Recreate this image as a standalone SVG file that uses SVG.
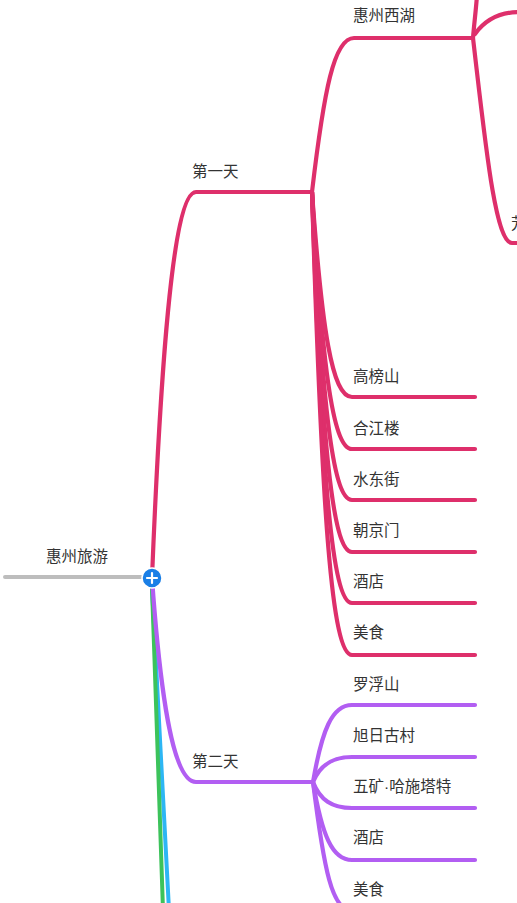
<svg xmlns="http://www.w3.org/2000/svg" width="517" height="903" viewBox="0 0 517 903">
<style>
.t{font-family:"Noto Sans CJK SC","Liberation Sans",sans-serif;font-size:15.5px;fill:#333333}
.d{font-family:"Liberation Sans",sans-serif}
.l{fill:none;stroke-linecap:round;stroke-linejoin:round}
.pk{stroke:#DE2F6B;stroke-width:4.2}
.pu{stroke:#B25EF2;stroke-width:4.2}
</style>
<rect width="517" height="903" fill="#ffffff"/>
<g id="connectors">
<path class="l" d="M5,577 L150,577" stroke="#BDBDBD" stroke-width="4"/>
<path class="l" d="M152,588 C159,720 165,830 169,910" stroke="#2DB6F4" stroke-width="4"/>
<path class="l" d="M152,588 C156,700 160,820 163,910" stroke="#3CC35B" stroke-width="4"/>
<path class="l pk" d="M152,578 C160,380 172,192 196,192 L312,192"/>
<path class="l pu" d="M152,578 C160,690 172,782 196,782 L313,782"/>
<path class="l pk" d="M312,192 C324,90 334,38 354,38 L473,38"/>
<path class="l pk" d="M473,38 C474,25 476,10 477,-5"/>
<path class="l pk" d="M475,34 C485,20 500,12 520,12"/>
<path class="l pk" d="M473,38 C485,140 495,243 512,243 L520,243"/>
<path class="l pk" d="M312,192 C322,330 332,397 352,397 L475,397"/>
<path class="l pk" d="M312,192 C322,360 332,449 352,449 L475,449"/>
<path class="l pk" d="M312,192 C322,400 332,500 352,500 L475,500"/>
<path class="l pk" d="M312,192 C322,440 332,552 352,552 L475,552"/>
<path class="l pk" d="M312,192 C322,480 332,603 352,603 L475,603"/>
<path class="l pk" d="M312,192 C322,520 332,655 352,655 L475,655"/>
<path class="l pu" d="M313,782 C322,730 332,705 352,705 L475,705"/>
<path class="l pu" d="M313,782 C320,765 332,757 352,757 L475,757"/>
<path class="l pu" d="M313,782 C320,800 332,808 352,808 L475,808"/>
<path class="l pu" d="M313,782 C322,835 332,860 352,860 L475,860"/>
<path class="l pu" d="M313,782 C324,870 332,911 352,911 L475,911"/>
</g>
<g id="root">
<text class="t" x="46" y="562">惠州旅游</text>
<circle cx="152" cy="578" r="10" fill="#1A7FE6" stroke="#ffffff" stroke-width="1.5"/>
<path d="M147,578 H157 M152,573 V583" stroke="#ffffff" stroke-width="2.2" stroke-linecap="round"/>
</g>
<g id="day1"><text class="t" x="192" y="177">第一天</text></g>
<g id="xihu"><text class="t" x="353" y="21">惠州西湖</text></g>
<g id="xihu-child"><text class="t" x="511" y="229">芳</text></g>
<g id="gaobangshan"><text class="t" x="353" y="382">高榜山</text></g>
<g id="hejianglou"><text class="t" x="353" y="434">合江楼</text></g>
<g id="shuidongjie"><text class="t" x="353" y="485">水东街</text></g>
<g id="chaojingmen"><text class="t" x="353" y="536">朝京门</text></g>
<g id="hotel1"><text class="t" x="353" y="587">酒店</text></g>
<g id="food1"><text class="t" x="353" y="638">美食</text></g>
<g id="day2"><text class="t" x="192" y="767">第二天</text></g>
<g id="luofushan"><text class="t" x="353" y="690">罗浮山</text></g>
<g id="xurigucun"><text class="t" x="353" y="741">旭日古村</text></g>
<g id="wukuang"><text class="t" x="353" y="792">五矿<tspan class="d">·</tspan>哈施塔特</text></g>
<g id="hotel2"><text class="t" x="353" y="843">酒店</text></g>
<g id="food2"><text class="t" x="353" y="895">美食</text></g>
</svg>
